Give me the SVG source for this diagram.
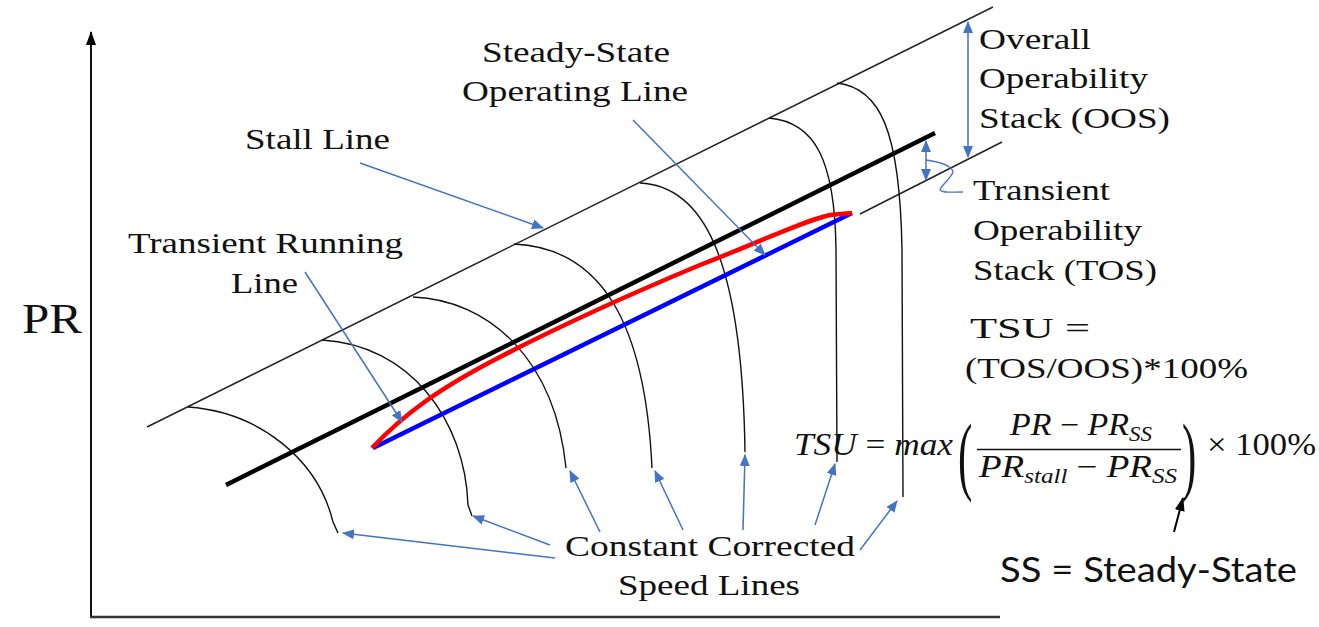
<svg xmlns="http://www.w3.org/2000/svg" width="1319" height="627" viewBox="0 0 1319 627">
<style>
.lbl{font-family:"Liberation Serif","Times New Roman",serif;font-size:30px;fill:#111}
.math{font-family:"Liberation Serif","Times New Roman",serif;font-size:31px;fill:#111;font-style:italic}
.up{font-style:normal}
.sans{font-family:Lato,"Open Sans",sans-serif;font-size:34px;fill:#111}
.spd{fill:none;stroke:#111;stroke-width:1.4}
.ptr{fill:none;stroke:#4472C4;stroke-width:1.5;marker-end:url(#ba)}
</style>
<defs>
<marker id="ba" viewBox="0 0 12 10" refX="11" refY="5" markerWidth="12" markerHeight="10" markerUnits="userSpaceOnUse" orient="auto">
<path d="M0,0 L12,5 L0,10 Z" fill="#4472C4"/>
</marker>
<marker id="ba2" viewBox="0 0 12 10" refX="11" refY="5" markerWidth="12" markerHeight="10" markerUnits="userSpaceOnUse" orient="auto-start-reverse">
<path d="M0,0 L12,5 L0,10 Z" fill="#4472C4"/>
</marker>
<marker id="ka" viewBox="0 0 14 10" refX="13" refY="5" markerWidth="14" markerHeight="10" markerUnits="userSpaceOnUse" orient="auto">
<path d="M0,0 L14,5 L0,10 Z" fill="#000"/>
</marker>
</defs>
<rect width="1319" height="627" fill="#fff"/>

<g id="axes">
<line x1="91" y1="617" x2="91" y2="32" stroke="#111" stroke-width="2" marker-end="url(#ka)"/>
<line x1="90" y1="617" x2="1000" y2="617" stroke="#333" stroke-width="2.5"/>
<text class="lbl" x="22" y="333" style="font-size:42px" textLength="60" lengthAdjust="spacingAndGlyphs">PR</text>
</g>

<g id="stall-line">
<line x1="147" y1="427" x2="993" y2="7" stroke="#222" stroke-width="1.5"/>
</g>
<g id="tos-boundary">
<line x1="860" y1="214" x2="1002" y2="142" stroke="#222" stroke-width="1.5"/>
</g>
<g id="surge-margin-line">
<line x1="226" y1="485" x2="935" y2="133" stroke="#000" stroke-width="4.5"/>
</g>

<g id="speed-lines">
<path class="spd" d="M188,407 C260,412 318,460 333,522 L338,533"/>
<path class="spd" d="M322,340 C410,345 465,420 468,505 L472,516"/>
<path class="spd" d="M413,297 C490,300 555,360 566,468"/>
<path class="spd" d="M514,244 C600,248 645,320 652,468"/>
<path class="spd" d="M640,183 C700,186 742,250 745,452"/>
<path class="spd" d="M769,118 C815,122 835,160 836,250 L837,462"/>
<path class="spd" d="M837,83 C880,88 900,130 902,250 L903,497"/>
</g>

<g id="steady-state-line">
<line x1="373" y1="448" x2="852" y2="213" stroke="#0000FF" stroke-width="4.5"/>
</g>
<g id="transient-line">
<path d="M372,448 C405,413 440,388 500,357 C560,326 640,290 700,265 C760,242 800,222 830,215 L852,213" fill="none" stroke="#FF0000" stroke-width="4.5"/>
</g>

<g id="connectors">
<line class="ptr" x1="360" y1="163" x2="543" y2="228"/>
<line class="ptr" x1="633" y1="120" x2="765" y2="255"/>
<line class="ptr" x1="305" y1="272" x2="402" y2="422"/>
<line class="ptr" x1="555" y1="558" x2="343" y2="533"/>
<line class="ptr" x1="550" y1="545" x2="473" y2="516"/>
<line class="ptr" x1="600" y1="532" x2="570" y2="471"/>
<line class="ptr" x1="683" y1="530" x2="655" y2="471"/>
<line class="ptr" x1="743" y1="530" x2="745" y2="455"/>
<line class="ptr" x1="815" y1="525" x2="835" y2="464"/>
<line class="ptr" x1="860" y1="550" x2="897" y2="501"/>
<line x1="968" y1="22" x2="968" y2="157" stroke="#4472C4" stroke-width="1.5" marker-start="url(#ba2)" marker-end="url(#ba2)"/>
<line x1="926" y1="141" x2="926" y2="180" stroke="#4472C4" stroke-width="1.5" marker-start="url(#ba2)" marker-end="url(#ba2)"/>
<path d="M926,160 C940,162 952,166 953,172 C950,180 940,186 940,190 C942,193 950,192 963,192" fill="none" stroke="#4472C4" stroke-width="1.3"/>
<line x1="1174" y1="532" x2="1183" y2="498" stroke="#000" stroke-width="2" marker-end="url(#ka)"/>
</g>

<g id="label-steady-state">
<text class="lbl" x="482" y="62" textLength="188" lengthAdjust="spacingAndGlyphs">Steady-State</text>
<text class="lbl" x="462" y="101" textLength="226" lengthAdjust="spacingAndGlyphs">Operating Line</text>
</g>
<g id="label-stall">
<text class="lbl" x="245" y="149" textLength="145" lengthAdjust="spacingAndGlyphs">Stall Line</text>
</g>
<g id="label-transient-running">
<text class="lbl" x="128" y="253" textLength="275" lengthAdjust="spacingAndGlyphs">Transient Running</text>
<text class="lbl" x="231" y="293" textLength="67" lengthAdjust="spacingAndGlyphs">Line</text>
</g>
<g id="label-oos">
<text class="lbl" x="979" y="49" textLength="112" lengthAdjust="spacingAndGlyphs">Overall</text>
<text class="lbl" x="979" y="88" textLength="169" lengthAdjust="spacingAndGlyphs">Operability</text>
<text class="lbl" x="979" y="128" textLength="191" lengthAdjust="spacingAndGlyphs">Stack (OOS)</text>
</g>
<g id="label-tos">
<text class="lbl" x="973" y="200" textLength="137" lengthAdjust="spacingAndGlyphs">Transient</text>
<text class="lbl" x="973" y="240" textLength="169" lengthAdjust="spacingAndGlyphs">Operability</text>
<text class="lbl" x="973" y="280" textLength="184" lengthAdjust="spacingAndGlyphs">Stack (TOS)</text>
</g>
<g id="label-tsu">
<text class="lbl" x="970" y="338" textLength="120" lengthAdjust="spacingAndGlyphs">TSU =</text>
<text class="lbl" x="965" y="378" textLength="283" lengthAdjust="spacingAndGlyphs">(TOS/OOS)*100%</text>
</g>
<g id="label-speed">
<text class="lbl" x="565" y="556" textLength="290" lengthAdjust="spacingAndGlyphs">Constant Corrected</text>
<text class="lbl" x="618" y="595" textLength="182" lengthAdjust="spacingAndGlyphs">Speed Lines</text>
</g>

<g id="formula">
<text class="math" x="794" y="455" textLength="159" lengthAdjust="spacingAndGlyphs">TSU <tspan class="up">=</tspan> max</text>
<text class="lbl up" x="0" y="0" transform="translate(958,484) scale(0.5,1)" style="font-size:86px">(</text>
<text class="math" x="1010" y="435" textLength="142" lengthAdjust="spacingAndGlyphs">PR <tspan class="up">−</tspan> PR<tspan font-size="21" dy="6">SS</tspan></text>
<line x1="977" y1="449.5" x2="1181" y2="449.5" stroke="#111" stroke-width="1.6"/>
<text class="math" x="979" y="477" textLength="198" lengthAdjust="spacingAndGlyphs">PR<tspan font-size="21" dy="6">stall</tspan><tspan dy="-6"> </tspan><tspan class="up">−</tspan> PR<tspan font-size="21" dy="6">SS</tspan></text>
<text class="lbl up" x="0" y="0" transform="translate(1182,484) scale(0.5,1)" style="font-size:86px">)</text>
<text class="math up" x="1207" y="455" textLength="109" lengthAdjust="spacingAndGlyphs">× 100%</text>
</g>

<g id="label-ss">
<text class="sans" x="1000" y="582" textLength="297" lengthAdjust="spacingAndGlyphs">SS = Steady-State</text>
</g>
</svg>
